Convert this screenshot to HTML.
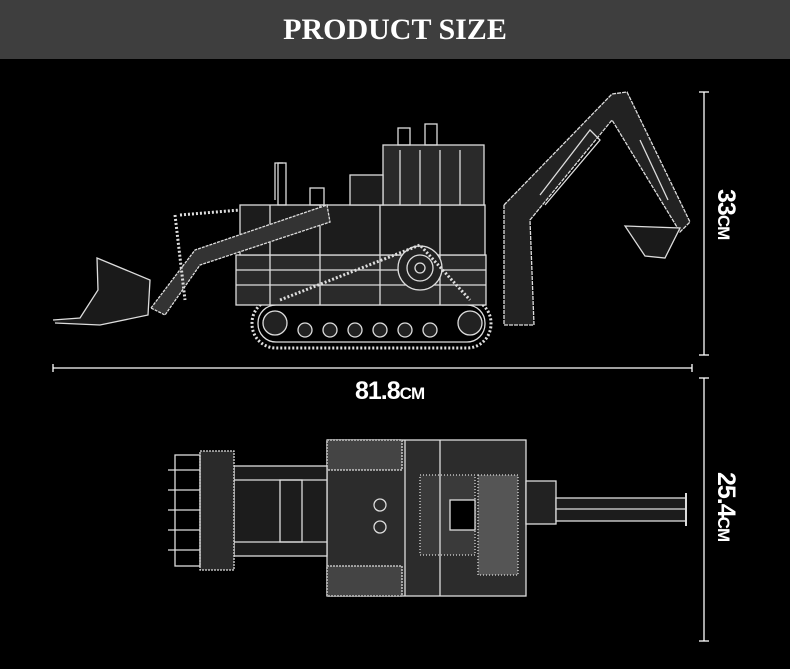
<!DOCTYPE html>
<html><head><meta charset="utf-8"><style>
html,body{margin:0;padding:0;background:#000;}
body{width:790px;height:669px;overflow:hidden;position:relative;}
.hd{position:absolute;left:0;top:0;width:790px;height:59px;background:#3e3e3e;color:#fff;font-family:"Liberation Serif",serif;font-weight:bold;font-size:30px;text-align:center;line-height:59px;}
.lbl{position:absolute;color:#fff;font-family:"Liberation Sans",sans-serif;font-weight:bold;font-size:25px;letter-spacing:-1px;transform-origin:0 0;}
.lbl small{font-size:17px;}
</style></head><body>
<div class="hd">PRODUCT SIZE</div>
<svg width="790" height="669" style="position:absolute;left:0;top:0" fill="none" stroke="#fff" stroke-width="1.3">
<!-- dimension lines -->
<line x1="53" y1="368" x2="692" y2="368"/><line x1="53" y1="364" x2="53" y2="372"/><line x1="692" y1="364" x2="692" y2="372"/>
<line x1="704" y1="92" x2="704" y2="355"/><line x1="699" y1="92" x2="709" y2="92"/><line x1="699" y1="355" x2="709" y2="355"/>
<line x1="704" y1="378" x2="704" y2="641"/><line x1="699" y1="378" x2="709" y2="378"/><line x1="699" y1="641" x2="709" y2="641"/>
<!-- side view -->
<g stroke="#ddd">
<rect x="252" y="299" width="239" height="49" rx="24" stroke-width="3" stroke-dasharray="2 2"/>
<rect x="258" y="305" width="227" height="37" rx="18"/>
<g fill="#222"><circle cx="275" cy="323" r="12"/><circle cx="470" cy="323" r="12"/>
<circle cx="305" cy="330" r="7"/><circle cx="330" cy="330" r="7"/><circle cx="355" cy="330" r="7"/><circle cx="380" cy="330" r="7"/><circle cx="405" cy="330" r="7"/><circle cx="430" cy="330" r="7"/></g>
<rect x="236" y="255" width="250" height="50" fill="#2a2a2a"/>
<rect x="240" y="205" width="245" height="50" fill="#1c1c1c"/>
<line x1="236" y1="270" x2="486" y2="270"/><line x1="236" y1="285" x2="486" y2="285"/>
<line x1="270" y1="205" x2="270" y2="305"/><line x1="320" y1="205" x2="320" y2="305"/><line x1="380" y1="205" x2="380" y2="305"/><line x1="440" y1="205" x2="440" y2="305"/>
<circle cx="420" cy="268" r="22" fill="#222"/><circle cx="420" cy="268" r="13"/><circle cx="420" cy="268" r="5"/>
<path d="M280 300 L420 245 L470 300" stroke-width="3" stroke-dasharray="2 2"/>
<rect x="383" y="145" width="101" height="60" fill="#2a2a2a"/>
<line x1="400" y1="150" x2="400" y2="205"/><line x1="420" y1="150" x2="420" y2="205"/><line x1="440" y1="150" x2="440" y2="205"/><line x1="460" y1="150" x2="460" y2="205"/>
<rect x="398" y="128" width="12" height="17"/><rect x="425" y="124" width="12" height="21"/>
<rect x="350" y="175" width="33" height="30" fill="#1c1c1c"/>
<rect x="310" y="188" width="14" height="17"/><path d="M275 200 V163 h8"/><rect x="278" y="163" width="8" height="42"/>
<path d="M151 308 L195 250 L327 205 L330 222 L200 265 L165 315 Z" fill="#333" stroke-dasharray="3 1"/>
<path d="M180 215 L240 210 M175 215 L185 300" stroke-width="3" stroke-dasharray="2 2"/>
<path d="M53 320 L80 318 L98 290 L97 258 L150 280 L148 315 L100 325 L55 323" fill="#1a1a1a"/>
<path d="M504 205 L612 94 L627 92 L690 222 L680 232 L612 120 L530 220 L534 325 L504 325 Z" fill="#222" stroke-dasharray="4 1"/>
<path d="M540 195 L590 130 L600 140 L545 205" />
<path d="M625 226 L680 228 L665 258 L645 256 Z" fill="#1a1a1a"/>
<line x1="640" y1="140" x2="668" y2="200"/>
</g>
<!-- top view -->
<g stroke="#ddd">
<rect x="327" y="440" width="199" height="156" fill="#2c2c2c"/>
<rect x="327" y="440" width="75" height="30" fill="#444" stroke-dasharray="2 1"/>
<rect x="327" y="566" width="75" height="30" fill="#444" stroke-dasharray="2 1"/>
<rect x="478" y="475" width="40" height="100" fill="#555" stroke-dasharray="1 2"/>
<rect x="420" y="475" width="55" height="80" fill="#3a3a3a" stroke-dasharray="1 2"/>
<rect x="450" y="500" width="25" height="30" fill="#000"/>
<circle cx="380" cy="505" r="6"/><circle cx="380" cy="527" r="6"/>
<line x1="405" y1="440" x2="405" y2="596"/><line x1="440" y1="440" x2="440" y2="596"/>
<rect x="234" y="466" width="93" height="90" fill="#1c1c1c"/>
<line x1="234" y1="480" x2="327" y2="480"/><line x1="234" y1="542" x2="327" y2="542"/>
<rect x="280" y="480" width="22" height="62"/>
<rect x="200" y="451" width="34" height="119" fill="#2a2a2a" stroke-dasharray="2 1"/>
<rect x="175" y="455" width="25" height="111"/>
<line x1="168" y1="470" x2="200" y2="470"/><line x1="168" y1="490" x2="200" y2="490"/><line x1="168" y1="510" x2="200" y2="510"/><line x1="168" y1="530" x2="200" y2="530"/><line x1="168" y1="550" x2="200" y2="550"/>
<rect x="526" y="481" width="30" height="43" fill="#222"/>
<rect x="556" y="498" width="130" height="23" fill="#1c1c1c"/>
<line x1="556" y1="509" x2="686" y2="509"/><line x1="686" y1="493" x2="686" y2="526" stroke-width="2"/>
</g>
</svg>
<div class="lbl" style="left:355px;top:377px;">81.8<small>CM</small></div>
<div class="lbl" style="left:740px;top:189px;transform:rotate(90deg);">33<small>CM</small></div>
<div class="lbl" style="left:740px;top:472px;transform:rotate(90deg);">25.4<small>CM</small></div>
</body></html>
